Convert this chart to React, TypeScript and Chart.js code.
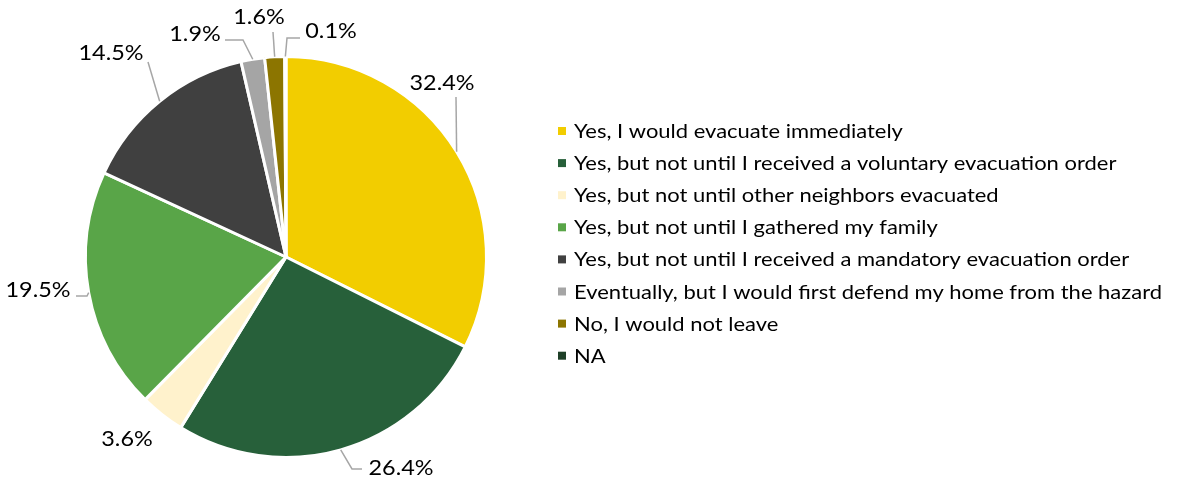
import React, { useEffect, useRef } from "react";
import { Chart, registerables } from "chart.js";

Chart.register(...registerables);

const categories = [
  "Yes, I would evacuate immediately",
  "Yes, but not until I received a voluntary evacuation order",
  "Yes, but not until other neighbors evacuated",
  "Yes, but not until I gathered my family",
  "Yes, but not until I received a mandatory evacuation order",
  "Eventually, but I would first defend my home from the hazard",
  "No, I would not leave",
  "NA",
];
const values = [32.4, 26.4, 3.6, 19.5, 14.5, 1.9, 1.6, 0.1];
const valueLabels = ["32.4%", "26.4%", "3.6%", "19.5%", "14.5%", "1.9%", "1.6%", "0.1%"];
const colors = ["#F2CD00", "#27603A", "#FFF2CC", "#59A548", "#404040", "#A5A5A5", "#8C7500", "#1E3F27"];

// Data-label layout (offsets from the pie centre, px) and leader-line elbows
const labelOffsets: [number, number][] = [
  [156, -175],
  [115, 210],
  [-159, 181],
  [-248, 32],
  [-175, -205],
  [-91, -224],
  [-27, -241],
  [45, -227],
];
const leaderPaths: [number, number][][] = [
  [[170, -160]],
  [[66, 212], [76, 212]],
  [],
  [[-199, 39], [-210, 39]],
  [[-138, -195]],
  [[-43, -217], [-61, -217]],
  [[-13, -225]],
  [[1, -219], [14, -219]],
];

const FONT = "Lato, 'Liberation Sans', sans-serif";

function drawCondensed(ctx: CanvasRenderingContext2D, text: string, x: number, y: number, sx: number, align: "left" | "center") {
  ctx.save();
  ctx.translate(x, y);
  ctx.scale(sx, 1);
  ctx.textAlign = align;
  ctx.fillText(text, 0, 0);
  ctx.restore();
}

const outLabels = {
  id: "outLabels",
  afterDatasetsDraw(chart: any) {
    const ctx: CanvasRenderingContext2D = chart.ctx;
    const meta = chart.getDatasetMeta(0);
    ctx.save();
    ctx.font = `22px ${FONT}`;
    const w = ctx.measureText("32.4%").width;
    const sx = 65 / w;
    meta.data.forEach((arc: any, i: number) => {
      const p = arc.getProps(["x", "y", "startAngle", "endAngle", "outerRadius"], true);
      const mid = (p.startAngle + p.endAngle) / 2;
      const ex = p.x + Math.cos(mid) * p.outerRadius;
      const ey = p.y + Math.sin(mid) * p.outerRadius;
      const path = leaderPaths[i];
      if (path.length) {
        ctx.strokeStyle = "#A6A6A6";
        ctx.lineWidth = 1.5;
        ctx.beginPath();
        ctx.moveTo(ex, ey);
        path.forEach(([dx, dy]) => ctx.lineTo(p.x + dx, p.y + dy));
        ctx.stroke();
      }
      const [lx, ly] = labelOffsets[i];
      ctx.fillStyle = "#000000";
      ctx.textBaseline = "alphabetic";
      drawCondensed(ctx, valueLabels[i], p.x + lx, p.y + ly + 8, sx, "center");
    });
    ctx.restore();
  },
};

const sideLegend = {
  id: "sideLegend",
  afterDraw(chart: any) {
    const ctx: CanvasRenderingContext2D = chart.ctx;
    ctx.save();
    ctx.font = `19px ${FONT}`;
    let maxW = 0;
    categories.forEach((c) => (maxW = Math.max(maxW, ctx.measureText(c).width)));
    const sx = 588 / maxW;
    const x0 = 558;
    const y0 = 131;
    const step = 32.1;
    categories.forEach((c, i) => {
      const yc = y0 + i * step;
      ctx.fillStyle = colors[i];
      ctx.fillRect(x0, yc - 4, 8, 8);
      ctx.fillStyle = "#000000";
      ctx.textBaseline = "alphabetic";
      drawCondensed(ctx, c, x0 + 16, yc + 7, sx, "left");
    });
    ctx.restore();
  },
};

export default function App() {
  const ref = useRef<HTMLCanvasElement | null>(null);
  useEffect(() => {
    document.body.style.margin = "0";
    const canvas = ref.current;
    if (!canvas) return;
    const chart = new Chart(canvas, {
      type: "pie",
      data: {
        labels: categories,
        datasets: [
          {
            data: values,
            backgroundColor: colors,
            borderColor: "#FFFFFF",
            borderWidth: 3,
          },
        ],
      },
      options: {
        responsive: false,
        animation: false,
        layout: { padding: { top: 55, bottom: 20, left: 0, right: 607 } },
        plugins: {
          legend: { display: false },
          tooltip: { enabled: false },
        },
      },
      plugins: [outLabels, sideLegend],
    });
    return () => chart.destroy();
  }, []);
  return (
    <div style={{ width: 1179, height: 479, background: "#FFFFFF" }}>
      <canvas ref={ref} width={1179} height={479} />
    </div>
  );
}
